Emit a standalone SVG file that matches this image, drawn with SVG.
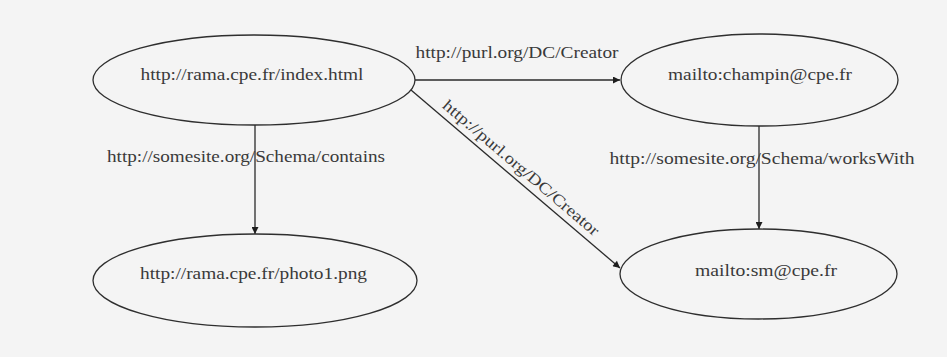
<svg xmlns="http://www.w3.org/2000/svg" width="947" height="357" viewBox="0 0 947 357">
  <style>
    .node ellipse { fill: none; stroke: #2e2e2e; stroke-width: 1.3; }
    .node text, .label { font-family: "Liberation Serif", "Times New Roman", serif; font-size: 16px; fill: #3a3a3a; text-anchor: middle; }
    .edge { stroke: #2a2a2a; stroke-width: 1.3; fill: none; marker-end: url(#arrow); }
  </style>
  <defs>
    <marker id="arrow" viewBox="0 0 10 10" refX="10" refY="5" markerWidth="9" markerHeight="7" markerUnits="userSpaceOnUse" orient="auto">
      <path d="M0,0 L10,5 L0,10 z" fill="#1e1e1e"/>
    </marker>
  </defs>

  <rect x="0" y="0" width="947" height="357" fill="#f4f4f4"/>

  <g id="connectors">
    <line class="edge" x1="415" y1="80" x2="620" y2="80"/>
    <line class="edge" x1="255" y1="125" x2="255" y2="234"/>
    <line class="edge" x1="759" y1="126" x2="759" y2="229"/>
    <line class="edge" x1="411" y1="90" x2="620" y2="268"/>
    <text class="label" x="517" y="58" textLength="203" lengthAdjust="spacingAndGlyphs">http://purl.org/DC/Creator</text>
    <text class="label" x="246" y="162" textLength="278" lengthAdjust="spacingAndGlyphs">http://somesite.org/Schema/contains</text>
    <text class="label" x="762" y="164" textLength="305" lengthAdjust="spacingAndGlyphs">http://somesite.org/Schema/worksWith</text>
    <text class="label" transform="translate(521,168) rotate(40.4)" x="0" y="5" textLength="200" lengthAdjust="spacingAndGlyphs">http://purl.org/DC/Creator</text>
  </g>

  <g id="index" class="node">
    <ellipse cx="254" cy="80" rx="161" ry="45"/>
    <text x="252" y="80" textLength="223" lengthAdjust="spacingAndGlyphs">http://rama.cpe.fr/index.html</text>
  </g>

  <g id="champin" class="node">
    <ellipse cx="759.5" cy="80" rx="138.5" ry="46"/>
    <text x="760" y="80" textLength="184" lengthAdjust="spacingAndGlyphs">mailto:champin@cpe.fr</text>
  </g>

  <g id="photo" class="node">
    <ellipse cx="255" cy="280.5" rx="162" ry="46.5"/>
    <text x="253.5" y="279" textLength="227" lengthAdjust="spacingAndGlyphs">http://rama.cpe.fr/photo1.png</text>
  </g>

  <g id="srn" class="node">
    <ellipse cx="758.5" cy="274" rx="138.5" ry="45"/>
    <text x="766" y="276" textLength="142" lengthAdjust="spacingAndGlyphs">mailto:sm@cpe.fr</text>
  </g>
</svg>
